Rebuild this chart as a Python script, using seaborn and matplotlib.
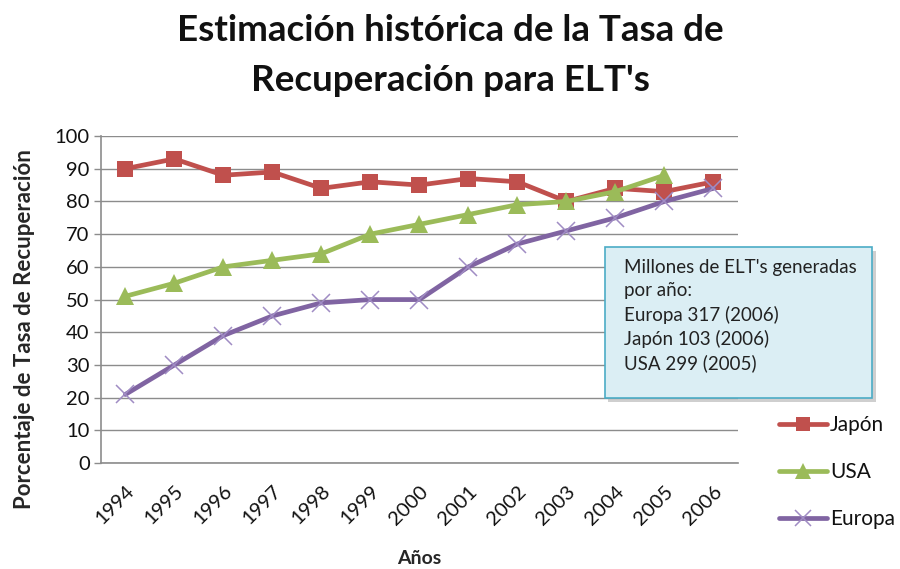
import numpy as np
import pandas as pd
import matplotlib
matplotlib.use("Agg")
import matplotlib.pyplot as plt
import seaborn as sns
from matplotlib.patches import FancyBboxPatch

# data
years = ['1994', '1995', '1996', '1997', '1998', '1999', '2000',
         '2001', '2002', '2003', '2004', '2005', '2006']
japon = [90, 93, 88, 89, 84, 86, 85, 87, 86, 80, 84, 83, 86]
usa = [51, 55, 60, 62, 64, 70, 73, 76, 79, 80, 83, 88]
europa = [21, 30, 39, 45, 49, 50, 50, 60, 67, 71, 75, 80, 84]
note_lines = ["Millones de ELT's generadas", "por año:",
              "Europa 317 (2006)", "Japón 103 (2006)", "USA 299 (2005)"]

sns.set_style("white")
plt.rcParams['font.family'] = ['Lato', 'DejaVu Sans']
plt.rcParams['text.color'] = '#111111'

fig = plt.figure(figsize=(9, 5.69), dpi=100)
ax = fig.add_axes([0.112, 0.186, 0.708, 0.575])

pos = np.arange(len(years))
jap_df = pd.DataFrame({'x': pos, 'y': japon})
usa_df = pd.DataFrame({'x': pos[:len(usa)], 'y': usa})
eur_df = pd.DataFrame({'x': pos, 'y': europa})

sns.lineplot(data=jap_df, x='x', y='y', ax=ax, color='#c0504d', lw=3.4,
             marker='s', markersize=12, markeredgewidth=0, label='Japón', zorder=3)
sns.lineplot(data=usa_df, x='x', y='y', ax=ax, color='#9bbb59', lw=3.4,
             marker='^', markersize=13, markeredgewidth=0, label='USA', zorder=4)
sns.lineplot(data=eur_df, x='x', y='y', ax=ax, color='#8064a2', lw=3.4,
             marker='x', markersize=13, markeredgewidth=1.1,
             markeredgecolor='#a08cc4', label='Europa', zorder=5)

ax.set_xlim(-0.5, len(years) - 0.5)
ax.set_ylim(0, 100)
ax.set_yticks(range(0, 101, 10))
ax.yaxis.grid(True, color='#8c8c8c', lw=1.0)
ax.set_axisbelow(True)

ax.set_xticks(pos)
ax.set_xticklabels(years, rotation=45, ha='right', rotation_mode='anchor', fontsize=14.5)
ax.set_xticks(np.arange(-0.5, len(years)), minor=True)
ax.tick_params(axis='x', which='major', length=0, pad=14, labelcolor='#111111')
ax.tick_params(axis='x', which='minor', length=6, color='#8c8c8c', width=1)
ax.tick_params(axis='y', length=5, color='#8c8c8c', width=1, labelsize=14.5, pad=3,
               left=True, labelcolor='#111111')

for side in ['top', 'right']:
    ax.spines[side].set_visible(False)
for side in ['left', 'bottom']:
    ax.spines[side].set_color('#8c8c8c')
    ax.spines[side].set_linewidth(1.2)

ax.set_xlabel('Años', fontsize=14, fontweight='bold', labelpad=16)
ax.set_ylabel('Porcentaje de Tasa de Recuperación', fontsize=16, fontweight='bold')
ax.yaxis.set_label_coords(-0.104, 0.41)

fig.text(0.5, 0.947, 'Estimación histórica de la Tasa de', ha='center', va='center',
         fontsize=26.5, fontweight='bold')
fig.text(0.5, 0.858, "Recuperación para ELT's", ha='center', va='center',
         fontsize=26.5, fontweight='bold')

leg = ax.legend(loc='upper left', bbox_to_anchor=(1.035, 0.205), frameon=False,
                fontsize=15, handlelength=2.3, labelspacing=1.3, handletextpad=0.15,
                markerscale=0.85)

# note box with shadow
x0, y0, w, h = 0.672, 0.30, 0.297, 0.266
shadow = FancyBboxPatch((x0 + 0.004, y0 - 0.007), w, h, boxstyle='square,pad=0',
                        transform=fig.transFigure, facecolor='#b0b0b0', edgecolor='none',
                        alpha=0.6, zorder=8)
box = FancyBboxPatch((x0, y0), w, h, boxstyle='square,pad=0', transform=fig.transFigure,
                     facecolor='#dbeef4', edgecolor='#4bacc6', lw=1.2, zorder=9)
fig.patches.extend([shadow, box])
fig.text(x0 + 0.021, y0 + h - 0.022, '\n'.join(note_lines), ha='left', va='top',
         fontsize=13.5, linespacing=1.42, color='#222222', zorder=10)

fig.savefig('out.png', dpi=100)
